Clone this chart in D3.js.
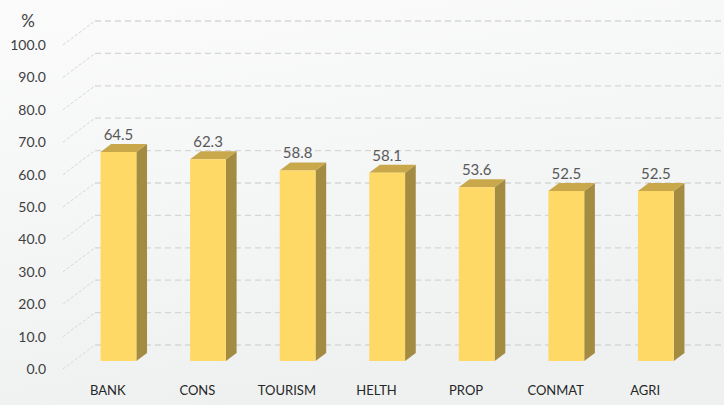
<!DOCTYPE html>
<html lang="en">
<head>
	<meta charset="utf-8">
	<title>3d bars</title>
	<script src="https://d3js.org/d3.v7.min.js"></script>
	<style type="text/css">
		body { margin: 0; }
		svg { display: block; font-family: Lato, "Liberation Sans", sans-serif; }
	</style>
</head>
<body>
	<svg id="chart-svg"></svg>
	<script type="text/javascript">
		// data
		let categories = ['BANK', 'CONS', 'TOURISM', 'HELTH', 'PROP', 'CONMAT', 'AGRI']
		let values = [64.5, 62.3, 58.8, 58.1, 53.6, 52.5, 52.5]
		let yTicks = [0, 10, 20, 30, 40, 50, 60, 70, 80, 90, 100]
		let unitLabel = '%'

		// layout
		let w = 724
		let h = 405
		let depthX = 32   // back wall offset
		let depthY = -24
		let barFront = 1 / 3  // bars sit between 1/3 and 2/3 of depth
		let barBack = 2 / 3

		let svg = d3.select('#chart-svg')
			.attr('width', w)
			.attr('height', h)

		let defs = svg.append('defs')
		let bg = defs.append('linearGradient')
			.attr('id', 'bg')
			.attr('x1', 0).attr('y1', 0).attr('x2', 0.3).attr('y2', 1)
		bg.append('stop').attr('offset', 0).attr('stop-color', '#fbfbfb')
		bg.append('stop').attr('offset', 1).attr('stop-color', '#eff1f1')

		svg.append('rect')
			.attr('width', w)
			.attr('height', h)
			.attr('fill', 'url(#bg)')

		let yScale = d3.scaleLinear()
			.domain([0, 100])
			.range([369, 45])

		let xScale = d3.scaleBand()
			.domain(categories)
			.range([63, 690])
			.paddingInner(0.6)
			.paddingOuter(0.3)

		// project a front-plane point back by depth d (0..1)
		function P(x, y, d) {
			return [x + d * depthX, y + d * depthY]
		}

		// gridlines: diagonal on the side wall, then straight along the back wall
		let grid = svg.append('g')
		yTicks.forEach(function(t) {
			let a = P(63, yScale(t), 0)
			let b = P(63, yScale(t), 1)
			grid.append('line')
				.attr('x1', a[0]).attr('y1', a[1])
				.attr('x2', b[0]).attr('y2', b[1])
				.attr('stroke', '#d6d6d6')
				.attr('stroke-width', 1)
				.attr('stroke-dasharray', '3,2')
			grid.append('line')
				.attr('x1', b[0]).attr('y1', b[1])
				.attr('x2', w).attr('y2', b[1])
				.attr('stroke', '#d6d6d6')
				.attr('stroke-width', 1.3)
				.attr('stroke-dasharray', '6,4')
		})

		// y labels
		svg.append('g')
			.selectAll('text')
			.data(yTicks)
			.enter()
			.append('text')
			.attr('x', 46)
			.attr('y', d => yScale(d) + 5)
			.attr('text-anchor', 'end')
			.attr('font-size', 14)
			.attr('fill', '#404040')
			.text(d => d.toFixed(1))

		svg.append('text')
			.attr('x', 28)
			.attr('y', 27)
			.attr('text-anchor', 'middle')
			.attr('font-size', 17)
			.attr('fill', '#404040')
			.text(unitLabel)

		// bars
		let bars = svg.append('g')
			.selectAll('g')
			.data(categories)
			.enter()
			.append('g')

		function poly(pts) {
			return 'M' + pts.map(p => p.join(',')).join('L') + 'Z'
		}

		bars.each(function(c, i) {
			let g = d3.select(this)
			let x0 = xScale(c)
			let x1 = x0 + xScale.bandwidth()
			let yt = yScale(values[i])
			let yb = yScale(0)
			let fl = P(x0, yt, barFront), fr = P(x1, yt, barFront)
			let bl = P(x0, yt, barBack), br = P(x1, yt, barBack)
			let fbl = P(x0, yb, barFront), fbr = P(x1, yb, barFront)
			let bbr = P(x1, yb, barBack)

			// side
			g.append('path')
				.attr('d', poly([fr, br, bbr, fbr]))
				.attr('fill', '#a38b42')
			// top
			g.append('path')
				.attr('d', poly([fl, fr, br, bl]))
				.attr('fill', '#c8a84b')
			// front
			g.append('path')
				.attr('d', poly([fl, fr, fbr, fbl]))
				.attr('fill', '#ffd966')

			g.append('text')
				.attr('x', (fl[0] + fr[0]) / 2)
				.attr('y', bl[1] - 4)
				.attr('text-anchor', 'middle')
				.attr('font-size', 15)
				.attr('fill', '#595959')
				.text(values[i].toFixed(1))
		})

		// category labels
		svg.append('g')
			.selectAll('text')
			.data(categories)
			.enter()
			.append('text')
			.attr('x', d => xScale(d) + xScale.bandwidth() / 2)
			.attr('y', 395)
			.attr('text-anchor', 'middle')
			.attr('font-size', 13)
			.attr('fill', '#262626')
			.text(d => d)
	</script>
</body>
</html>
